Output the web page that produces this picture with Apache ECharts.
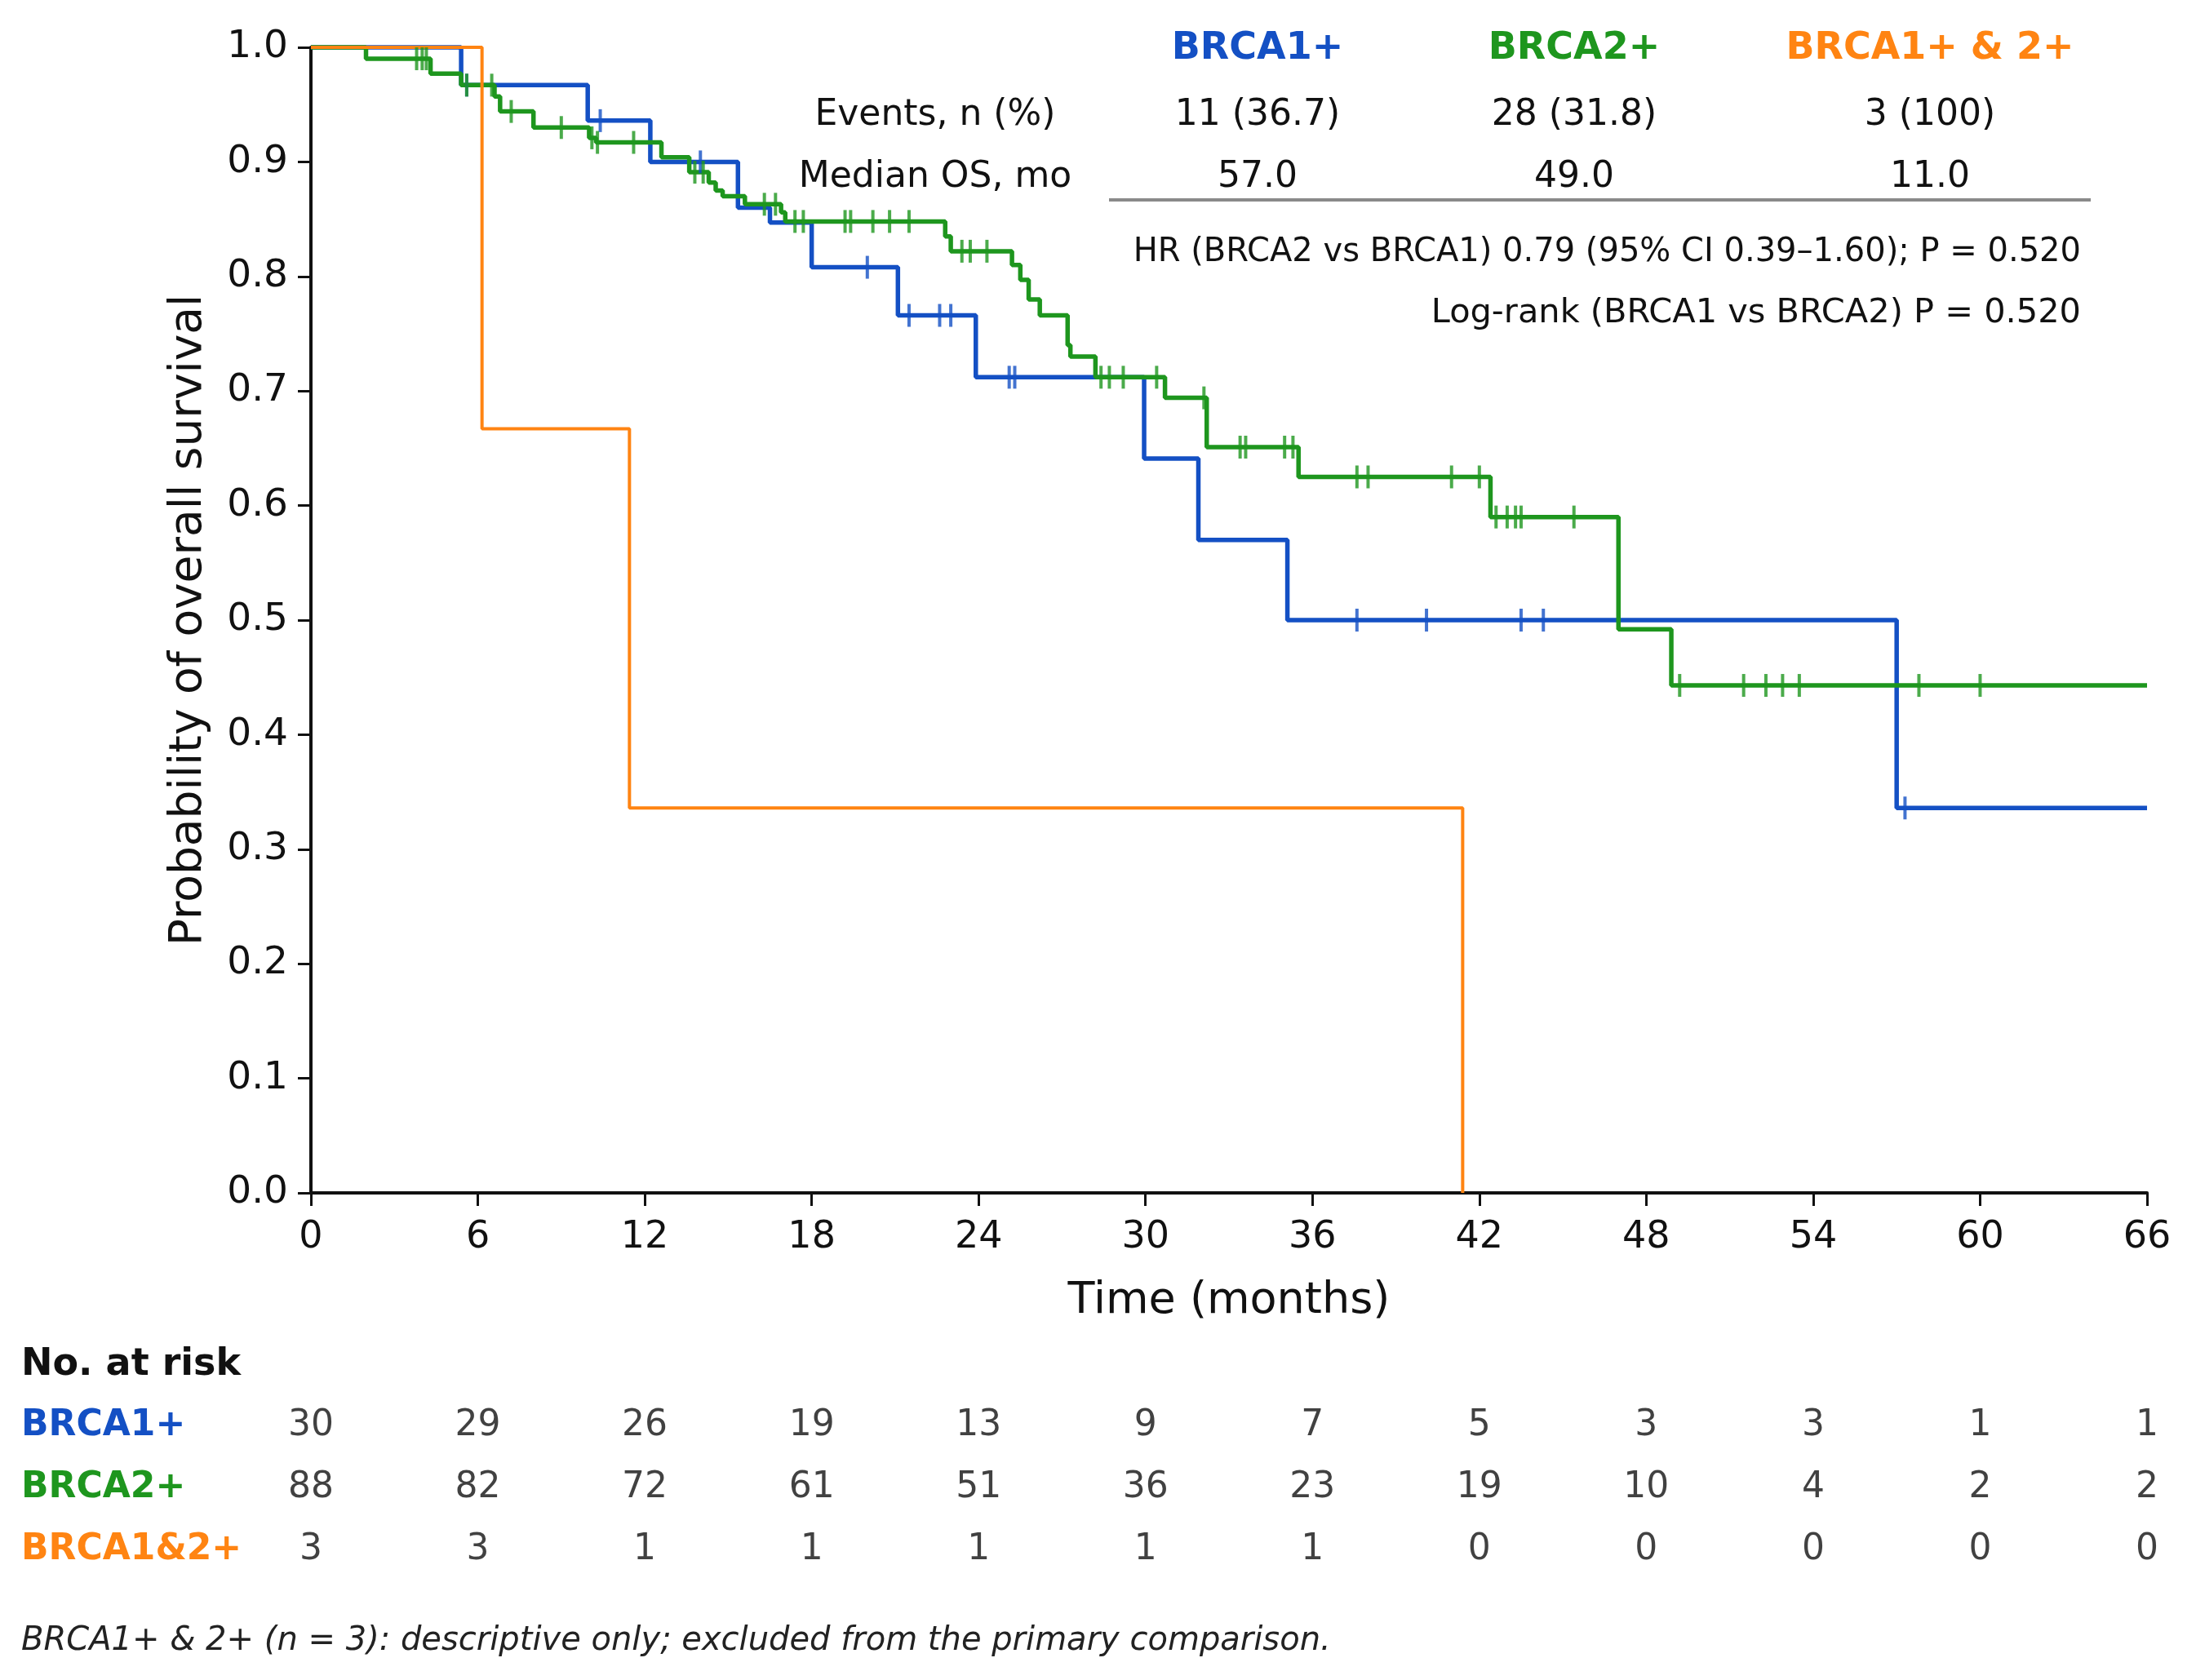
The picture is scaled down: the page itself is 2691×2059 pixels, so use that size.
<!DOCTYPE html>
<html>
<head>
<meta charset="utf-8">
<title>Overall survival by BRCA status</title>
<script src="https://cdn.jsdelivr.net/npm/echarts@6/dist/echarts.min.js"></script>
<style>
  html, body { margin: 0; padding: 0; background: #fff; }
  #main { width: 2691px; height: 2059px; }
</style>
</head>
<body>
<div id="main"></div>
<script>
// KM curves: [time in months, survival after the step]
var brca1Curve = [[0,1],[5.4,0.967],[9.95,0.936],[12.2,0.900],[15.35,0.860],[16.5,0.847],[18.0,0.808],
  [21.1,0.766],[23.9,0.712],[29.95,0.641],[31.9,0.570],[35.1,0.500],[57.0,0.336],[66,0.336]];
var brca1Censor = [5.6, 10.4, 14.0, 20.0, 21.5, 22.6, 23.0, 25.1, 25.3, 37.6, 40.1, 43.5, 44.3, 57.3];

var brca2Curve = [[0,1],[1.98,0.990],[4.3,0.977],[5.4,0.967],[6.6,0.957],[6.8,0.944],[8.0,0.930],
  [10.0,0.921],[10.25,0.917],[12.6,0.904],[13.6,0.891],[14.3,0.882],[14.55,0.875],[14.8,0.870],
  [15.6,0.863],[16.9,0.856],[17.05,0.848],[22.8,0.835],[23.0,0.822],[25.2,0.810],[25.5,0.797],
  [25.8,0.780],[26.2,0.766],[27.2,0.740],[27.3,0.730],[28.2,0.712],[30.7,0.694],[32.2,0.651],
  [35.5,0.625],[42.4,0.590],[47.0,0.492],[48.9,0.443],[66,0.443]];
var brca2Censor = [3.8, 4.0, 4.15, 5.6, 6.5, 7.2, 9.0, 10.1, 10.3, 11.6, 13.8, 14.1, 16.3, 16.7, 17.4, 17.7,
  19.2, 19.4, 20.2, 20.8, 21.5, 23.4, 23.7, 24.3, 28.4, 28.7, 29.2, 30.4, 32.1, 33.4, 33.6, 35.0, 35.3,
  37.6, 38.0, 41.0, 42.0, 42.6, 43.0, 43.3, 43.5, 45.4, 49.2, 51.5, 52.3, 52.9, 53.5, 57.8, 60.0];

var bothCurve = [[0,1],[6.15,0.667],[11.45,0.336],[41.4,0]];

// number at risk
var riskTimes = [0, 6, 12, 18, 24, 30, 36, 42, 48, 54, 60, 66];
var riskBRCA1 = [30, 29, 26, 19, 13, 9, 7, 5, 3, 3, 1, 1];
var riskBRCA2 = [88, 82, 72, 61, 51, 36, 23, 19, 10, 4, 2, 2];
var riskBoth = [3, 3, 1, 1, 1, 1, 1, 0, 0, 0, 0, 0];
var riskRows = ['BRCA1+', 'BRCA2+', 'BRCA1&2+'];

var groupNames = ['BRCA1+', 'BRCA2+', 'BRCA1+ & 2+'];
var eventsText = ['11 (36.7)', '28 (31.8)', '3 (100)'];
var medianText = ['57.0', '49.0', '11.0'];

var blue = '#1450c4', green = '#1e961e', orange = '#ff8412';
var FONT = '"DejaVu Sans", sans-serif';

function survAt(curve, t) {
    var s = curve[0][1];
    for (var i = 0; i < curve.length; i++) {
        if (curve[i][0] <= t) s = curve[i][1];
    }
    return s;
}
function censorPoints(curve, times) {
    return times.map(function (t) { return [t, survAt(curve, t)]; });
}
function riskPoints(vals, row) {
    return vals.map(function (v, i) { return [riskTimes[i], row, v]; });
}

var myChart = echarts.init(document.getElementById('main'));

function txt(x, y, text, size, color, weight, align, style) {
    return {
        type: 'text', x: x, y: y, silent: true,
        style: {
            text: text, fill: color || '#111',
            font: (style || 'normal') + ' ' + (weight || 'normal') + ' ' + size + 'px ' + FONT,
            align: align || 'center', verticalAlign: 'middle'
        }
    };
}

var colX = [1541, 1929, 2365];
var graphics = [
    txt(1146, 142, 'Events, n (%)', 44),
    txt(1146, 218, 'Median OS, mo', 44),
    { type: 'line', silent: true, shape: { x1: 1359, y1: 245, x2: 2562, y2: 245 },
      style: { stroke: '#8a8a8a', lineWidth: 4 } },
    txt(2550, 310, 'HR (BRCA2 vs BRCA1) 0.79 (95% CI 0.39\u20131.60); P = 0.520', 40, '#111', 'normal', 'right'),
    txt(2550, 384, 'Log-rank (BRCA1 vs BRCA2) P = 0.520', 41.5, '#111', 'normal', 'right'),
    txt(26, 1673, 'No. at risk', 46, '#111', 'bold', 'left'),
    txt(26, 1748, 'BRCA1+', 44, blue, 'bold', 'left'),
    txt(26, 1824, 'BRCA2+', 44, green, 'bold', 'left'),
    txt(26, 1900, 'BRCA1&2+', 44, orange, 'bold', 'left'),
    txt(26, 2012, 'BRCA1+ & 2+ (n = 3): descriptive only; excluded from the primary comparison.', 40, '#222', 'normal', 'left', 'italic')
];
var headColors = [blue, green, orange];
for (var i = 0; i < 3; i++) {
    graphics.push(txt(colX[i], 60, groupNames[i], 46, headColors[i], 'bold'));
    graphics.push(txt(colX[i], 142, eventsText[i], 44));
    graphics.push(txt(colX[i], 218, medianText[i], 44));
}

var option = {
    backgroundColor: '#fff',
    animation: false,
    textStyle: { fontFamily: FONT },
    grid: [
        { left: 381, right: 60, top: 58, bottom: 597 },
        { left: 381, right: 60, top: 1710, height: 228 }
    ],
    xAxis: [{
        gridIndex: 0, type: 'value', min: 0, max: 66, interval: 6,
        name: 'Time (months)', nameLocation: 'middle', nameGap: 106,
        nameTextStyle: { fontSize: 54, color: '#111', fontFamily: FONT },
        axisLine: { show: true, lineStyle: { color: '#111', width: 4 } },
        axisTick: { show: true, length: 16, lineStyle: { color: '#111', width: 3 } },
        axisLabel: { fontSize: 46, color: '#111', margin: 32, fontFamily: FONT },
        splitLine: { show: false }
    }, {
        gridIndex: 1, type: 'value', min: 0, max: 66, show: false
    }],
    yAxis: [{
        gridIndex: 0, type: 'value', min: 0, max: 1, interval: 0.1,
        name: 'Probability of overall survival', nameLocation: 'middle', nameGap: 122,
        nameTextStyle: { fontSize: 55, color: '#111', fontFamily: FONT },
        axisLine: { show: true, lineStyle: { color: '#111', width: 4 } },
        axisTick: { show: true, length: 16, lineStyle: { color: '#111', width: 3 } },
        axisLabel: { fontSize: 47, color: '#111', margin: 28, fontFamily: FONT,
            formatter: function (v) { return v.toFixed(1); } },
        splitLine: { show: false }
    }, {
        gridIndex: 1, type: 'category', data: riskRows, inverse: true, show: false
    }],
    series: [{
        name: 'BRCA1+', type: 'line', step: 'end', data: brca1Curve, showSymbol: false,
        clip: false, lineStyle: { color: blue, width: 5.5 }, z: 2
    }, {
        name: 'BRCA2+', type: 'line', step: 'end', data: brca2Curve, showSymbol: false,
        clip: false, lineStyle: { color: green, width: 5.5 }, z: 3
    }, {
        name: 'BRCA1+ & 2+', type: 'line', step: 'end', data: bothCurve, showSymbol: false,
        clip: false, lineStyle: { color: orange, width: 4 }, z: 4
    }, {
        type: 'scatter', data: censorPoints(brca1Curve, brca1Censor), symbol: 'rect',
        symbolSize: [4, 28], itemStyle: { color: blue }, z: 5
    }, {
        type: 'scatter', data: censorPoints(brca2Curve, brca2Censor), symbol: 'rect',
        symbolSize: [4, 28], itemStyle: { color: green }, z: 6
    }].concat([riskBRCA1, riskBRCA2, riskBoth].map(function (vals, row) {
        return {
            type: 'scatter', xAxisIndex: 1, yAxisIndex: 1, data: riskPoints(vals, row),
            symbolSize: 0,
            label: { show: true, position: 'inside', fontSize: 44, color: '#111', fontFamily: FONT,
                formatter: function (p) { return p.value[2]; } }
        };
    })),
    graphic: graphics
};

myChart.setOption(option);
</script>
</body>
</html>
